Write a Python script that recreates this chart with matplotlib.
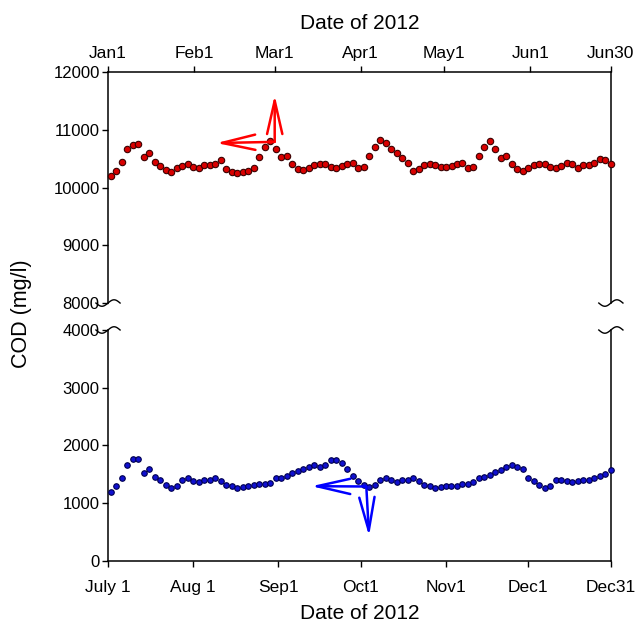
import numpy as np
import pandas as pd
import matplotlib
matplotlib.use('Agg')
import matplotlib.pyplot as plt

plt.rcParams['font.family'] = ['Liberation Sans', 'DejaVu Sans']

# COD readings, first half of 2012 (about every 2 days)
cod_first_half = [
    10200, 10280, 10440, 10660, 10740, 10760, 10530, 10590, 10440, 10370,
    10300, 10260, 10340, 10370, 10410, 10360, 10340, 10390, 10390, 10410,
    10480, 10320, 10270, 10250, 10260, 10280, 10340, 10530, 10700, 10810,
    10660, 10520, 10540, 10410, 10320, 10300, 10330, 10390, 10400, 10400,
    10360, 10340, 10370, 10410, 10430, 10330, 10350, 10540, 10700, 10820,
    10770, 10670, 10590, 10510, 10430, 10280, 10320, 10390, 10400, 10390,
    10350, 10350, 10370, 10410, 10420, 10340, 10350, 10540, 10700, 10810,
    10660, 10510, 10540, 10410, 10320, 10280, 10330, 10390, 10400, 10400,
    10350, 10340, 10370, 10420, 10410, 10330, 10390, 10390, 10430, 10490,
    10480, 10410,
]

# COD readings, second half of 2012
cod_second_half = [
    1200, 1290, 1440, 1670, 1760, 1760, 1530, 1600, 1450, 1400,
    1320, 1260, 1300, 1400, 1430, 1390, 1360, 1400, 1400, 1440,
    1390, 1320, 1290, 1260, 1280, 1290, 1310, 1330, 1330, 1350,
    1430, 1440, 1480, 1520, 1560, 1590, 1620, 1660, 1630, 1670,
    1740, 1750, 1700, 1600, 1480, 1380, 1320, 1280, 1320, 1410,
    1430, 1400, 1370, 1400, 1410, 1440, 1390, 1320, 1290, 1260,
    1280, 1300, 1290, 1300, 1330, 1340, 1360, 1430, 1450, 1490,
    1540, 1580, 1630, 1660, 1630, 1590, 1440, 1390, 1310, 1270,
    1300, 1400, 1410, 1380, 1360, 1390, 1400, 1410, 1440, 1480,
    1510, 1570,
]

dates_first = pd.date_range('2012-01-02', '2012-06-30', periods=len(cod_first_half))
dates_second = pd.date_range('2012-07-02', '2012-12-31', periods=len(cod_second_half))

ticks_first = ['2012-01-01', '2012-02-01', '2012-03-01', '2012-04-01',
               '2012-05-01', '2012-06-01', '2012-06-30']
labels_first = ['Jan1', 'Feb1', 'Mar1', 'Apr1', 'May1', 'Jun1', 'Jun30']
ticks_second = ['2012-07-01', '2012-08-01', '2012-09-01', '2012-10-01',
                '2012-11-01', '2012-12-01', '2012-12-31']
labels_second = ['July 1', 'Aug 1', 'Sep1', 'Oct1', 'Nov1', 'Dec1', 'Dec31']

fig = plt.figure(figsize=(6.41, 6.27), dpi=100)
ax_top = fig.add_axes([0.1685, 0.5167, 0.7845, 0.3685])
ax_bot = fig.add_axes([0.1685, 0.1053, 0.7845, 0.3684])

# top panel: Jan - Jun
ax_top.plot(dates_first, cod_first_half, 'o', ms=4.6, mfc='#d80000', mec='#3a0000',
            mew=0.8, clip_on=False, zorder=3)
ax_top.set_xlim(pd.Timestamp(ticks_first[0]), pd.Timestamp(ticks_first[-1]))
ax_top.set_ylim(8000, 12000)
ax_top.set_yticks([8000, 9000, 10000, 11000, 12000])
ax_top.xaxis.tick_top()
ax_top.xaxis.set_label_position('top')
ax_top.set_xticks([pd.Timestamp(t) for t in ticks_first])
ax_top.set_xticklabels(labels_first)
ax_top.set_xlabel('Date of 2012', fontsize=15, labelpad=12)
ax_top.spines['bottom'].set_visible(False)

# bottom panel: Jul - Dec
ax_bot.plot(dates_second, cod_second_half, 'o', ms=4, mfc='#1010d0', mec='#000050',
            mew=0.8, clip_on=False, zorder=3)
ax_bot.set_xlim(pd.Timestamp(ticks_second[0]), pd.Timestamp(ticks_second[-1]))
ax_bot.set_ylim(0, 4000)
ax_bot.set_yticks([0, 1000, 2000, 3000, 4000])
ax_bot.set_xticks([pd.Timestamp(t) for t in ticks_second])
ax_bot.set_xticklabels(labels_second)
ax_bot.set_xlabel('Date of 2012', fontsize=15, labelpad=6)
ax_bot.spines['top'].set_visible(False)

for ax in (ax_top, ax_bot):
    ax.tick_params(axis='both', direction='out', length=4, width=1)
    ax.tick_params(axis='x', labelsize=12.5, pad=4)
    ax.tick_params(axis='y', labelsize=12, pad=2)
    for s in ax.spines.values():
        s.set_linewidth(1.1)
ax_bot.tick_params(axis='x', pad=10)

fig.text(0.034, 0.5, 'COD (mg/l)', rotation=90, ha='center', va='center',
         fontsize=15.5)

# axis break marks (little tildes on both spines)
t = np.linspace(-1, 1, 40)
wx = t * 0.024
wy = 0.014 * np.sin(t * np.pi)
for xb in (0, 1):
    ax_top.plot(xb + wx, 0 + wy, color='k', lw=1, transform=ax_top.transAxes,
                clip_on=False)
    ax_bot.plot(xb + wx, 1 + wy, color='k', lw=1, transform=ax_bot.transAxes,
                clip_on=False)

# arrows
red_arrow = dict(arrowstyle='->,head_length=24,head_width=5.5', color='red',
                 lw=1.8, shrinkA=0, shrinkB=0, mutation_scale=1)
tail_red = (pd.Timestamp('2012-03-01'), 10790)
ax_top.annotate('', xy=(pd.Timestamp('2012-02-09'), 10770), xytext=tail_red,
                arrowprops=red_arrow)
ax_top.annotate('', xy=(pd.Timestamp('2012-03-01'), 11600), xytext=tail_red,
                arrowprops=red_arrow)

blue_arrow = dict(red_arrow, color='#0000ff')
tail_blue = (pd.Timestamp('2012-10-03'), 1290)
ax_bot.annotate('', xy=(pd.Timestamp('2012-09-13'), 1295), xytext=tail_blue,
                arrowprops=blue_arrow)
ax_bot.annotate('', xy=(pd.Timestamp('2012-10-04'), 430), xytext=tail_blue,
                arrowprops=blue_arrow)

fig.savefig('out.png', dpi=100)
